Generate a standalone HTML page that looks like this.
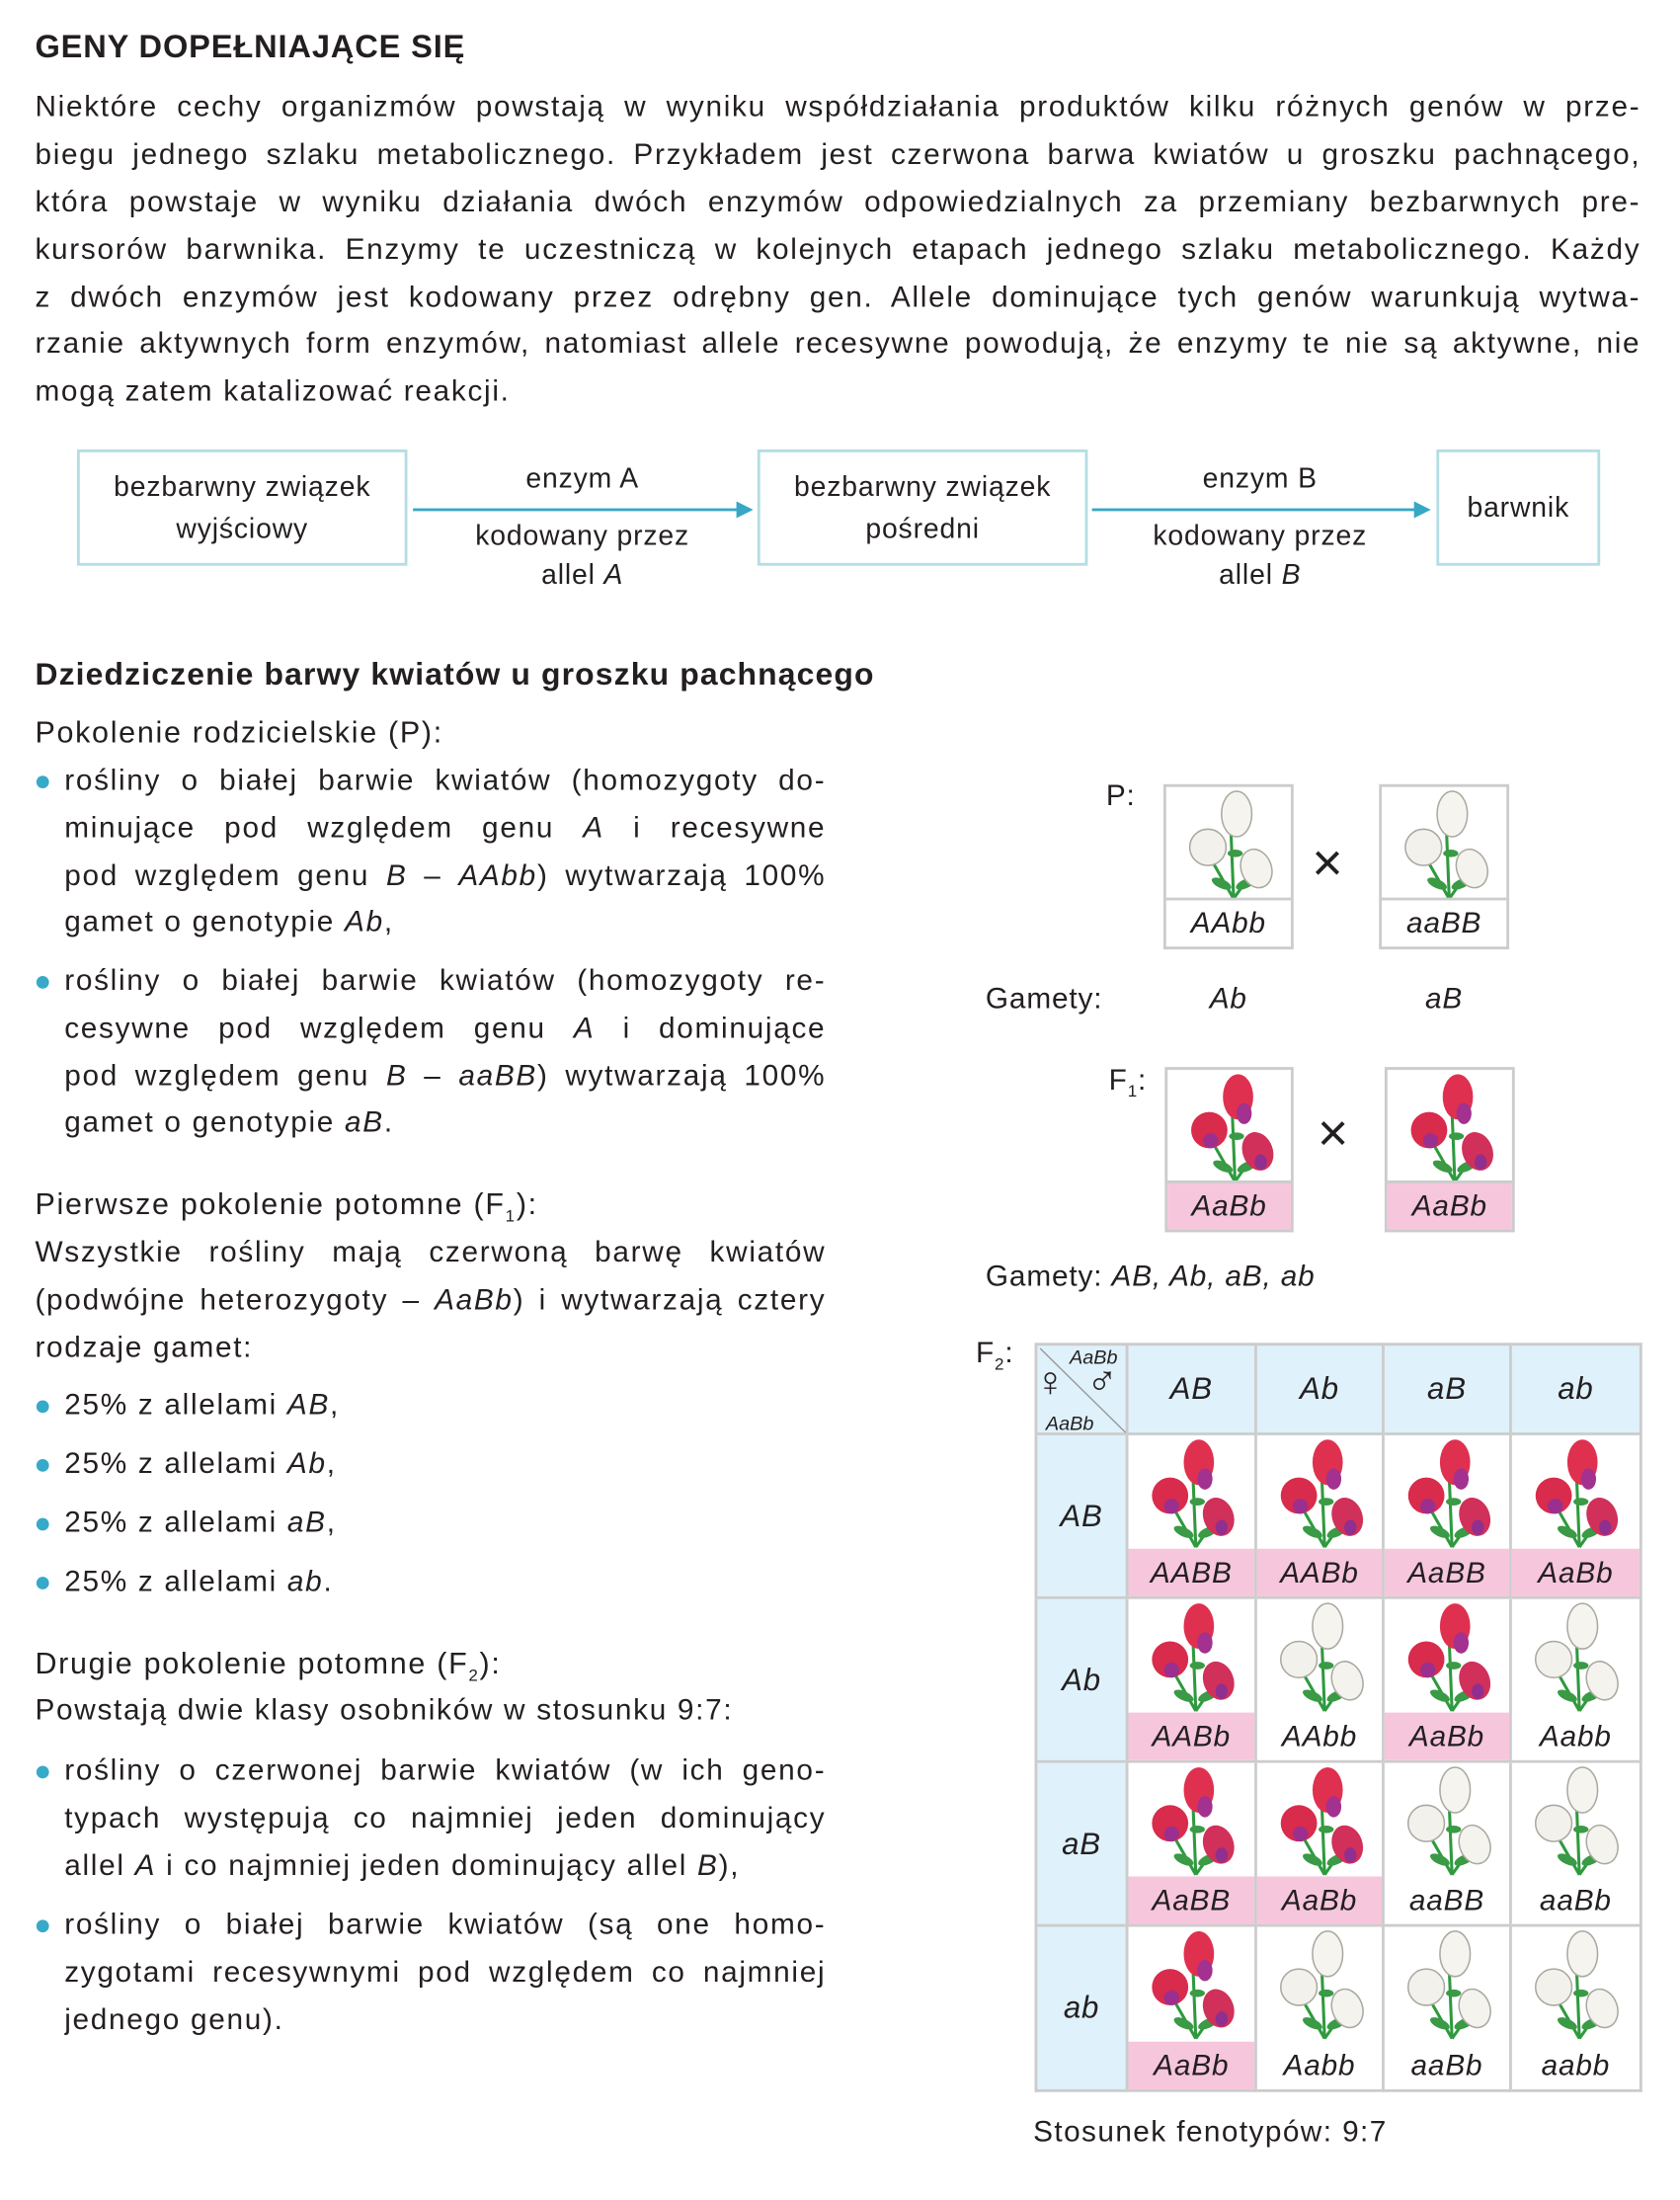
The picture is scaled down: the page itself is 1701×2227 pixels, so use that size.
<!DOCTYPE html>
<html><head><meta charset="utf-8">
<style>
html,body{margin:0;padding:0;background:#fff;}
body{width:1701px;height:2226px;overflow:hidden;}
#w{position:absolute;left:0;top:0;width:1200px;height:1571px;transform:scale(1.4175);transform-origin:0 0;font-family:"Liberation Sans",sans-serif;color:#231f20;letter-spacing:0.6px;}
.a{position:absolute;white-space:nowrap;}
.ln{position:absolute;left:25px;width:1147px;font-size:21px;letter-spacing:1.2px;text-align:justify;text-align-last:justify;height:26px;line-height:26px;overflow:hidden;}
.bl{position:absolute;left:46px;width:544px;font-size:21px;letter-spacing:1.2px;text-align:justify;text-align-last:justify;height:26px;line-height:26px;overflow:hidden;}
.bl.n{text-align-last:left;}
.dot{position:absolute;width:9px;height:9px;border-radius:50%;background:#37a9c9;left:26px;}
.box{position:absolute;border:2px solid #b5dde4;box-sizing:border-box;display:flex;align-items:center;justify-content:center;text-align:center;font-size:20px;line-height:30px;}
.arr{position:absolute;height:2px;background:#36a8c6;}
.arr:after{content:"";position:absolute;right:-2px;top:-5px;border-left:12px solid #36a8c6;border-top:6px solid transparent;border-bottom:6px solid transparent;}
.c{position:absolute;text-align:center;font-size:20px;}
i{font-style:italic;}
.pc{position:absolute;border:2px solid #ccc;box-sizing:border-box;background:#fff;}
.pc .lab{position:absolute;left:0;right:0;bottom:0;height:33px;border-top:2px solid #ccc;text-align:center;font-style:italic;font-size:21px;line-height:33px;}
.pc svg{position:absolute;left:10px;top:2px;}
.cell{position:absolute;border-right:2px solid #ccc;border-bottom:2px solid #ccc;box-sizing:border-box;background:#fff;}
.cell .lab{position:absolute;left:0;right:0;bottom:0;height:34px;text-align:center;font-style:italic;font-size:21px;line-height:36px;}
.cell svg{position:absolute;left:10px;top:2px;}
.hd{position:absolute;background:#dff1fb;border-right:2px solid #ccc;border-bottom:2px solid #ccc;box-sizing:border-box;display:flex;align-items:center;justify-content:center;font-style:italic;font-size:22px;}
</style></head><body><div id="w">
<svg width="0" height="0" style="position:absolute">
<defs>
<g id="stem">
<path d="M32 72 L30 22 M32 72 L16 44 M32 72 L46 52" stroke="#2e9a3e" stroke-width="2" fill="none"/>
<ellipse cx="24" cy="62" rx="7" ry="3" fill="#3a9a45" transform="rotate(25 24 62)"/>
<ellipse cx="40" cy="62" rx="7" ry="3" fill="#3a9a45" transform="rotate(-25 40 62)"/>
<ellipse cx="33" cy="42" rx="5" ry="2.5" fill="#3a9a45"/>
</g>
<g id="red">
<use href="#stem"/>
<ellipse cx="34" cy="16" rx="10" ry="15" fill="#e0304f"/>
<ellipse cx="38" cy="27" rx="5" ry="7" fill="#a2318f"/>
<circle cx="15" cy="38" r="12" fill="#d92b4b"/>
<ellipse cx="16" cy="45" rx="5" ry="5" fill="#9b2f8f"/>
<ellipse cx="47" cy="52" rx="10" ry="13" fill="#d0305a" transform="rotate(-20 47 52)"/>
<ellipse cx="49" cy="59" rx="4" ry="5" fill="#8f2f8f"/>
</g>
<g id="wht">
<use href="#stem"/>
<ellipse cx="34" cy="16" rx="10" ry="15" fill="#f5f4ef" stroke="#a9a9a2" stroke-width="1"/>
<circle cx="15" cy="38" r="12" fill="#f2f1ec" stroke="#a9a9a2" stroke-width="1"/>
<ellipse cx="47" cy="52" rx="10" ry="13" fill="#f4f3ee" stroke="#a9a9a2" stroke-width="1" transform="rotate(-20 47 52)"/>
</g>
</defs></svg>

<div class="a" style="left:25px;top:20px;font-size:23px;font-weight:bold;">GENY DOPEŁNIAJĄCE SIĘ</div>
<div class="ln" style="top:64px">Niektóre cechy organizmów powstają w wyniku współdziałania produktów kilku różnych genów w prze-</div>
<div class="ln" style="top:98px">biegu jednego szlaku metabolicznego. Przykładem jest czerwona barwa kwiatów u groszku pachnącego,</div>
<div class="ln" style="top:132px">która powstaje w wyniku działania dwóch enzymów odpowiedzialnych za przemiany bezbarwnych pre-</div>
<div class="ln" style="top:166px">kursorów barwnika. Enzymy te uczestniczą w kolejnych etapach jednego szlaku metabolicznego. Każdy</div>
<div class="ln" style="top:200px">z dwóch enzymów jest kodowany przez odrębny gen. Allele dominujące tych genów warunkują wytwa-</div>
<div class="ln" style="top:233px">rzanie aktywnych form enzymów, natomiast allele recesywne powodują, że enzymy te nie są aktywne, nie</div>
<div class="ln" style="top:267px;text-align-last:left">mogą zatem katalizować reakcji.</div>

<div class="box" style="left:55px;top:321px;width:236px;height:83px;">bezbarwny związek<br>wyjściowy</div>
<div class="arr" style="left:295px;top:363px;width:241px;"></div>
<div class="c" style="left:296px;width:240px;top:331px;">enzym A</div>
<div class="c" style="left:296px;width:240px;top:369px;line-height:28px;">kodowany przez<br>allel <i>A</i></div>
<div class="box" style="left:541px;top:321px;width:236px;height:83px;">bezbarwny związek<br>pośredni</div>
<div class="arr" style="left:780px;top:363px;width:240px;"></div>
<div class="c" style="left:780px;width:240px;top:331px;">enzym B</div>
<div class="c" style="left:780px;width:240px;top:369px;line-height:28px;">kodowany przez<br>allel <i>B</i></div>
<div class="box" style="left:1026px;top:321px;width:117px;height:83px;">barwnik</div>

<div class="a" style="left:25px;top:469px;font-size:22.5px;font-weight:bold;letter-spacing:0.8px;">Dziedziczenie barwy kwiatów u groszku pachnącego</div>
<div class="a" style="left:25px;top:511px;font-size:21.5px;letter-spacing:1.2px;">Pokolenie rodzicielskie (P):</div>
<div class="dot" style="top:554px"></div>
<div class="bl" style="top:545px">rośliny o białej barwie kwiatów (homozygoty do-</div>
<div class="bl" style="top:579px">minujące pod względem genu <i>A</i> i recesywne</div>
<div class="bl" style="top:613px">pod względem genu <i>B</i> – <i>AAbb</i>) wytwarzają 100%</div>
<div class="bl n" style="top:646px">gamet o genotypie <i>Ab</i>,</div>
<div class="dot" style="top:697px"></div>
<div class="bl" style="top:688px">rośliny o białej barwie kwiatów (homozygoty re-</div>
<div class="bl" style="top:722px">cesywne pod względem genu <i>A</i> i dominujące</div>
<div class="bl" style="top:756px">pod względem genu <i>B</i> – <i>aaBB</i>) wytwarzają 100%</div>
<div class="bl n" style="top:789px">gamet o genotypie <i>aB</i>.</div>

<div class="a" style="left:25px;top:848px;font-size:21.5px;letter-spacing:1.2px;">Pierwsze pokolenie potomne (F<sub style="font-size:12px">1</sub>):</div>
<div class="ln" style="top:882px;width:565px">Wszystkie rośliny mają czerwoną barwę kwiatów</div>
<div class="ln" style="top:916px;width:565px">(podwójne heterozygoty – <i>AaBb</i>) i wytwarzają cztery</div>
<div class="ln" style="top:950px;width:565px;text-align-last:left">rodzaje gamet:</div>
<div class="dot" style="top:1000px"></div><div class="bl n" style="top:991px">25% z allelami <i>AB</i>,</div>
<div class="dot" style="top:1042px"></div><div class="bl n" style="top:1033px">25% z allelami <i>Ab</i>,</div>
<div class="dot" style="top:1084px"></div><div class="bl n" style="top:1075px">25% z allelami <i>aB</i>,</div>
<div class="dot" style="top:1126px"></div><div class="bl n" style="top:1117px">25% z allelami <i>ab</i>.</div>

<div class="a" style="left:25px;top:1176px;font-size:21.5px;letter-spacing:1.2px;">Drugie pokolenie potomne (F<sub style="font-size:12px">2</sub>):</div>
<div class="a" style="left:25px;top:1210px;font-size:21px;letter-spacing:1.2px;">Powstają dwie klasy osobników w stosunku 9:7:</div>
<div class="dot" style="top:1261px"></div>
<div class="bl" style="top:1252px">rośliny o czerwonej barwie kwiatów (w ich geno-</div>
<div class="bl" style="top:1286px">typach występują co najmniej jeden dominujący</div>
<div class="bl n" style="top:1320px">allel <i>A</i> i co najmniej jeden dominujący allel <i>B</i>),</div>
<div class="dot" style="top:1371px"></div>
<div class="bl" style="top:1362px">rośliny o białej barwie kwiatów (są one homo-</div>
<div class="bl" style="top:1396px">zygotami recesywnymi pod względem co najmniej</div>
<div class="bl n" style="top:1430px">jednego genu).</div>

<!-- right side -->
<div class="a" style="left:790px;top:557px;font-size:21px;">P:</div>
<div class="pc" style="left:831px;top:560px;width:93px;height:118px;"><svg width="72" height="80" viewBox="0 0 60 74"><use href="#wht"/></svg><div class="lab">AAbb</div></div>
<div class="a" style="left:937px;top:596px;font-size:38px;">×</div>
<div class="pc" style="left:985px;top:560px;width:93px;height:118px;"><svg width="72" height="80" viewBox="0 0 60 74"><use href="#wht"/></svg><div class="lab">aaBB</div></div>
<div class="a" style="left:704px;top:702px;font-size:21px;">Gamety:</div>
<div class="a" style="left:864px;top:702px;font-size:21px;"><i>Ab</i></div>
<div class="a" style="left:1018px;top:702px;font-size:21px;"><i>aB</i></div>
<div class="a" style="left:792px;top:760px;font-size:21px;">F<sub style="font-size:12px">1</sub>:</div>
<div class="pc" style="left:832px;top:762px;width:92px;height:118px;"><svg width="72" height="80" viewBox="0 0 60 74"><use href="#red"/></svg><div class="lab" style="background:#f6c6dc">AaBb</div></div>
<div class="a" style="left:941px;top:789px;font-size:38px;">×</div>
<div class="pc" style="left:989px;top:762px;width:93px;height:118px;"><svg width="72" height="80" viewBox="0 0 60 74"><use href="#red"/></svg><div class="lab" style="background:#f6c6dc">AaBb</div></div>
<div class="a" style="left:704px;top:900px;font-size:21px;">Gamety: <i>AB, Ab, aB, ab</i></div>

<div class="a" style="left:697px;top:955px;font-size:21px;">F<sub style="font-size:12px">2</sub>:</div>
<div style="position:absolute;left:739px;top:959px;width:434px;height:535px;border-left:2px solid #ccc;border-top:2px solid #ccc;box-sizing:border-box;"></div>
<div class="hd" style="left:739px;top:959px;width:67px;height:66px;border-left:2px solid #ccc;border-top:2px solid #ccc;"></div>
<svg style="position:absolute;left:741px;top:961px" width="65" height="64"><line x1="2" y1="2" x2="63" y2="62" stroke="#999" stroke-width="1"/></svg>
<div class="a" style="left:764px;top:961px;font-size:14px;font-style:italic;letter-spacing:0;">AaBb</div>
<div class="a" style="left:747px;top:1008px;font-size:14px;font-style:italic;letter-spacing:0;">AaBb</div>
<div class="a" style="left:739px;top:971px;font-size:30px;font-weight:bold;">♀</div>
<div class="a" style="left:776px;top:969px;font-size:30px;font-weight:bold;">♂</div>
<div class="hd" style="left:806px;top:959px;width:92px;height:66px;border-top:2px solid #ccc;">AB</div>
<div class="hd" style="left:898px;top:959px;width:91px;height:66px;border-top:2px solid #ccc;">Ab</div>
<div class="hd" style="left:989px;top:959px;width:91px;height:66px;border-top:2px solid #ccc;">aB</div>
<div class="hd" style="left:1080px;top:959px;width:93px;height:66px;border-top:2px solid #ccc;">ab</div>
<div class="hd" style="left:739px;top:1025px;width:67px;height:117px;border-left:2px solid #ccc;">AB</div>
<div class="hd" style="left:739px;top:1142px;width:67px;height:117px;border-left:2px solid #ccc;">Ab</div>
<div class="hd" style="left:739px;top:1259px;width:67px;height:117px;border-left:2px solid #ccc;">aB</div>
<div class="hd" style="left:739px;top:1376px;width:67px;height:118px;border-left:2px solid #ccc;">ab</div>

<!-- row AB -->
<div class="cell" style="left:806px;top:1025px;width:92px;height:117px;"><svg width="72" height="80" viewBox="0 0 60 74"><use href="#red"/></svg><div class="lab" style="background:#f6c6dc">AABB</div></div>
<div class="cell" style="left:898px;top:1025px;width:91px;height:117px;"><svg width="72" height="80" viewBox="0 0 60 74"><use href="#red"/></svg><div class="lab" style="background:#f6c6dc">AABb</div></div>
<div class="cell" style="left:989px;top:1025px;width:91px;height:117px;"><svg width="72" height="80" viewBox="0 0 60 74"><use href="#red"/></svg><div class="lab" style="background:#f6c6dc">AaBB</div></div>
<div class="cell" style="left:1080px;top:1025px;width:93px;height:117px;"><svg width="72" height="80" viewBox="0 0 60 74"><use href="#red"/></svg><div class="lab" style="background:#f6c6dc">AaBb</div></div>
<!-- row Ab -->
<div class="cell" style="left:806px;top:1142px;width:92px;height:117px;"><svg width="72" height="80" viewBox="0 0 60 74"><use href="#red"/></svg><div class="lab" style="background:#f6c6dc">AABb</div></div>
<div class="cell" style="left:898px;top:1142px;width:91px;height:117px;"><svg width="72" height="80" viewBox="0 0 60 74"><use href="#wht"/></svg><div class="lab">AAbb</div></div>
<div class="cell" style="left:989px;top:1142px;width:91px;height:117px;"><svg width="72" height="80" viewBox="0 0 60 74"><use href="#red"/></svg><div class="lab" style="background:#f6c6dc">AaBb</div></div>
<div class="cell" style="left:1080px;top:1142px;width:93px;height:117px;"><svg width="72" height="80" viewBox="0 0 60 74"><use href="#wht"/></svg><div class="lab">Aabb</div></div>
<!-- row aB -->
<div class="cell" style="left:806px;top:1259px;width:92px;height:117px;"><svg width="72" height="80" viewBox="0 0 60 74"><use href="#red"/></svg><div class="lab" style="background:#f6c6dc">AaBB</div></div>
<div class="cell" style="left:898px;top:1259px;width:91px;height:117px;"><svg width="72" height="80" viewBox="0 0 60 74"><use href="#red"/></svg><div class="lab" style="background:#f6c6dc">AaBb</div></div>
<div class="cell" style="left:989px;top:1259px;width:91px;height:117px;"><svg width="72" height="80" viewBox="0 0 60 74"><use href="#wht"/></svg><div class="lab">aaBB</div></div>
<div class="cell" style="left:1080px;top:1259px;width:93px;height:117px;"><svg width="72" height="80" viewBox="0 0 60 74"><use href="#wht"/></svg><div class="lab">aaBb</div></div>
<!-- row ab -->
<div class="cell" style="left:806px;top:1376px;width:92px;height:118px;"><svg width="72" height="80" viewBox="0 0 60 74"><use href="#red"/></svg><div class="lab" style="background:#f6c6dc">AaBb</div></div>
<div class="cell" style="left:898px;top:1376px;width:91px;height:118px;"><svg width="72" height="80" viewBox="0 0 60 74"><use href="#wht"/></svg><div class="lab">Aabb</div></div>
<div class="cell" style="left:989px;top:1376px;width:91px;height:118px;"><svg width="72" height="80" viewBox="0 0 60 74"><use href="#wht"/></svg><div class="lab">aaBb</div></div>
<div class="cell" style="left:1080px;top:1376px;width:93px;height:118px;"><svg width="72" height="80" viewBox="0 0 60 74"><use href="#wht"/></svg><div class="lab">aabb</div></div>

<div class="a" style="left:738px;top:1511px;font-size:21px;letter-spacing:1px;">Stosunek fenotypów: 9:7</div>
</div></body></html>
